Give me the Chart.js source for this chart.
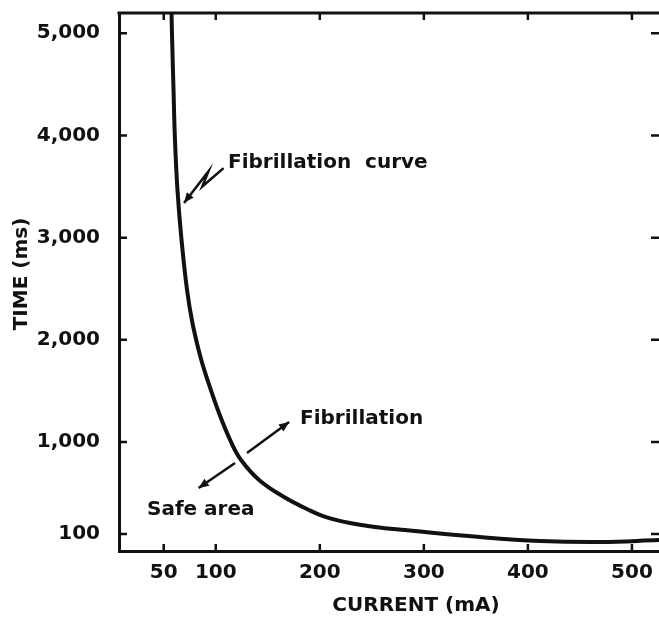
<!DOCTYPE html>
<html>
<head>
<meta charset="utf-8">
<script src="https://cdn.jsdelivr.net/npm/chart.js@4.4.1/dist/chart.umd.min.js"></script>
<style>
  html, body { margin: 0; padding: 0; background: #fff; }
  #wrap { width: 659px; height: 618px; }
</style>
</head>
<body>
<div id="wrap"><canvas id="chart" width="659" height="618"></canvas></div>
<script>
// fibrillation curve
const currentMA = [57.3, 57.9, 59.4, 60.8, 63.2, 67.1, 72.4, 77.6, 85.3, 92.1, 103.1, 115.1, 124.3, 141.6, 165.6, 189.6, 206.0, 229.0, 253.0, 281.9, 354.0, 411.6, 469.3, 526];
const timeMs = [5300, 5002, 4445, 3955, 3466, 2977, 2488, 2165, 1832, 1607, 1284, 991, 824, 629, 462, 335, 266, 208, 169, 139, 71, 32, 22, 41];

const xTicks = [50, 100, 200, 300, 400, 500];
const yTicks = [100, 1000, 2000, 3000, 4000, 5000];
const yTickLabels = ['100', '1,000', '2,000', '3,000', '4,000', '5,000'];

const FONT = '"DejaVu Sans", sans-serif';
const INK = '#111';

// text notes and arrows, in data units (mA, ms)
const notes = [
  { text: 'Fibrillation  curve', x: 111.8, y: 3730 },
  { text: 'Fibrillation', x: 181, y: 1225 },
  { text: 'Safe area', x: 33.9, y: 335 }
];
const arrows = [
  [[130, 893], [170.5, 1196]],
  [[118.5, 795], [83.5, 550]]
];
const zigzag = [[107.5, 3680], [87, 3500], [93, 3650], [69.5, 3340]];

function arrowHead(ctx, x0, y0, x1, y1) {
  const a = Math.atan2(y1 - y0, x1 - x0);
  const L = 11, w = 0.4;
  ctx.beginPath();
  ctx.moveTo(x1, y1);
  ctx.lineTo(x1 - L * Math.cos(a - w), y1 - L * Math.sin(a - w));
  ctx.lineTo(x1 - L * Math.cos(a + w), y1 - L * Math.sin(a + w));
  ctx.closePath();
  ctx.fill();
}

const framePlugin = {
  id: 'frame',
  afterDatasetsDraw(chart) {
    const { ctx, chartArea: a, scales: { x, y } } = chart;
    ctx.save();
    ctx.strokeStyle = INK;
    ctx.fillStyle = INK;
    ctx.lineCap = 'butt';

    // top border
    ctx.lineWidth = 3;
    ctx.beginPath();
    ctx.moveTo(a.left - 1.5, a.top);
    ctx.lineTo(a.right, a.top);
    ctx.stroke();

    // inward ticks on all four sides
    ctx.lineWidth = 2.5;
    ctx.beginPath();
    xTicks.forEach(v => {
      const px = x.getPixelForValue(v);
      ctx.moveTo(px, a.bottom); ctx.lineTo(px, a.bottom - 7);
      ctx.moveTo(px, a.top); ctx.lineTo(px, a.top + 7);
    });
    yTicks.forEach(v => {
      const py = y.getPixelForValue(v);
      ctx.moveTo(a.left, py); ctx.lineTo(a.left + 8, py);
      ctx.moveTo(a.right, py); ctx.lineTo(a.right - 8, py);
    });
    ctx.stroke();

    // annotations
    ctx.font = 'bold 20px ' + FONT;
    ctx.textBaseline = 'middle';
    ctx.textAlign = 'left';
    notes.forEach(n => ctx.fillText(n.text, x.getPixelForValue(n.x), y.getPixelForValue(n.y)));

    ctx.lineWidth = 2.5;
    arrows.forEach(([p0, p1]) => {
      const x0 = x.getPixelForValue(p0[0]), y0 = y.getPixelForValue(p0[1]);
      const x1 = x.getPixelForValue(p1[0]), y1 = y.getPixelForValue(p1[1]);
      ctx.beginPath(); ctx.moveTo(x0, y0); ctx.lineTo(x1, y1); ctx.stroke();
      arrowHead(ctx, x0, y0, x1, y1);
    });

    const zp = zigzag.map(p => [x.getPixelForValue(p[0]), y.getPixelForValue(p[1])]);
    ctx.beginPath();
    zp.forEach((p, i) => i ? ctx.lineTo(p[0], p[1]) : ctx.moveTo(p[0], p[1]));
    ctx.stroke();
    const n = zp.length;
    arrowHead(ctx, zp[n - 2][0], zp[n - 2][1], zp[n - 1][0], zp[n - 1][1]);

    // axis titles
    ctx.font = 'bold 20px ' + FONT;
    ctx.textAlign = 'center';
    ctx.fillText('CURRENT (mA)', 416, 606);
    ctx.translate(22, 274);
    ctx.rotate(-Math.PI / 2);
    ctx.fillText('TIME (ms)', 0, 0);
    ctx.restore();
  }
};

const bg = {
  id: 'bg',
  beforeDraw(chart) {
    const { ctx, width, height } = chart;
    ctx.save();
    ctx.fillStyle = '#fff';
    ctx.fillRect(0, 0, width, height);
    ctx.restore();
  }
};

new Chart(document.getElementById('chart'), {
  type: 'line',
  data: {
    datasets: [{
      data: currentMA.map((c, i) => ({ x: c, y: timeMs[i] })),
      borderColor: INK,
      borderWidth: 4,
      pointRadius: 0,
      tension: 0.4,
      fill: false
    }]
  },
  options: {
    responsive: false,
    animation: false,
    layout: { padding: { top: 13, right: 0, left: 0, bottom: 0 } },
    plugins: { legend: { display: false }, tooltip: { enabled: false } },
    scales: {
      x: {
        type: 'linear',
        min: 7,
        max: 526,
        afterBuildTicks: s => { s.ticks = xTicks.map(v => ({ value: v })); },
        afterFit: s => { s.height = 67; s.paddingLeft = 0; s.paddingRight = 0; },
        grid: { display: false },
        border: { display: true, color: INK, width: 3 },
        ticks: {
          color: INK,
          font: { family: FONT, size: 20, weight: 'bold' },
          padding: 2,
          maxRotation: 0,
          autoSkip: false,
          callback: v => String(v)
        }
      },
      y: {
        type: 'linear',
        min: -66,
        max: 5198,
        afterBuildTicks: s => { s.ticks = yTicks.map(v => ({ value: v })); },
        afterFit: s => { s.width = 119; s.paddingTop = 0; s.paddingBottom = 0; },
        grid: { display: false },
        border: { display: true, color: INK, width: 3 },
        ticks: {
          color: INK,
          font: { family: FONT, size: 20, weight: 'bold' },
          padding: 11,
          autoSkip: false,
          callback: v => yTickLabels[yTicks.indexOf(v)]
        }
      }
    }
  },
  plugins: [bg, framePlugin]
});
</script>
</body>
</html>
